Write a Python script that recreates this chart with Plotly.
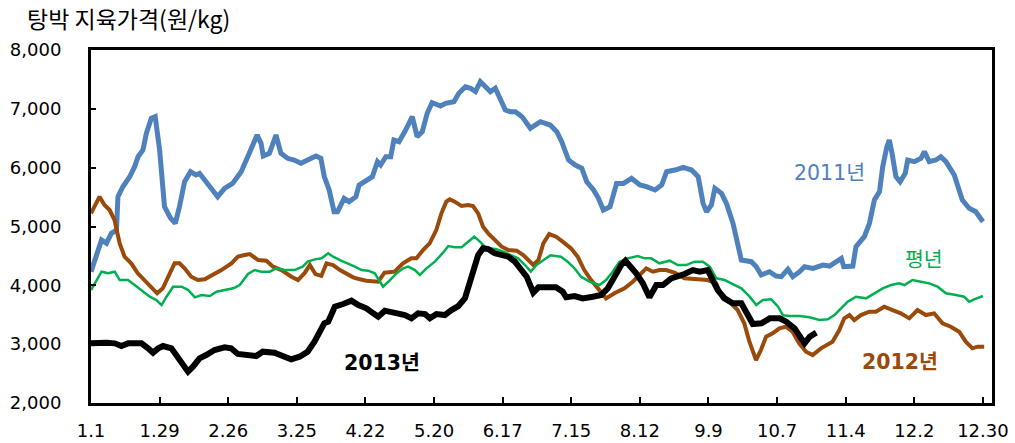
import plotly.graph_objects as go

tick_days = [0, 28, 56, 84, 112, 140, 168, 196, 224, 252, 280, 308, 336, 364]
tick_labels = ["1.1", "1.29", "2.26", "3.25", "4.22", "5.20", "6.17", "7.15", "8.12", "9.9", "10.7", "11.4", "12.2", "12.30"]

d2011 = [0,4.3,6.3,8.3,10.4,11,13,15.8,17.8,19.2,21.2,22.6,24.6,26.2,28,30,32.5,34.4,36.1,38.2,40.6,42.9,44.3,47,49.7,51.7,54.5,57.8,61.3,63.3,65.3,67.8,69.4,70.3,72.8,74.1,75.5,77.5,80.2,82.9,85.7,88.4,91.8,93.8,95.2,97.2,99.2,100.6,103.3,105.3,108.1,109.4,112.8,114.8,116.9,118.2,120.3,122.3,123.6,125.7,128.4,131.1,133.1,135.2,137.2,139.2,142.7,144.7,148.1,150.1,152.8,154.9,156.9,158.9,161,163,165,167.1,169.1,171.1,173.2,175.9,179.3,183.4,187.4,190.1,192.1,194.9,197.6,200.3,202.3,205.1,207.1,209.1,211.8,214.5,217.3,220.6,224,226.7,230.2,232.9,234.9,238.3,241.7,245.1,247.8,249.8,251.2,253.2,254.6,257.3,259.3,262,263.4,265.4,269.5,271.5,273.5,276.9,279.6,281.7,284.4,286.4,289.2,291.2,294.6,298.7,301.4,304.8,306.2,307.2,310.9,312.2,315.6,317.7,319.7,321.8,323.1,324.8,325.8,326.9,328.5,330.2,332.3,333.3,336,338.7,340.1,342.1,344.8,346.8,348.9,352.3,355.6,358.4,361.1,364]
v2011 = [4230,4770,4714,4884,4940,5507,5676,5846,6017,6187,6300,6584,6839,6867,6300,5337,5139,5054,5337,5761,5931,5875,5904,5761,5620,5507,5649,5733,5931,6130,6357,6555,6414,6198,6244,6385,6555,6244,6159,6130,6074,6130,6198,6159,5850,5620,5251,5251,5479,5422,5507,5705,5790,5846,6102,6045,6187,6187,6470,6442,6640,6867,6527,6612,6924,7104,7048,7094,7122,7264,7376,7349,7292,7462,7376,7292,7349,7150,6980,6951,6951,6867,6669,6782,6725,6612,6442,6130,6045,5989,5761,5620,5479,5280,5337,5733,5733,5819,5705,5677,5620,5705,5931,5960,6006,5960,5846,5394,5251,5365,5649,5564,5394,5054,4770,4430,4402,4317,4176,4232,4159,4147,4272,4147,4232,4317,4289,4345,4328,4430,4459,4317,4328,4657,4827,5054,5450,5592,6017,6357,6470,6244,5846,5761,5904,6130,6102,6159,6272,6102,6130,6187,6102,5875,5450,5309,5251,5082]

d2012 = [0,3.5,5.5,7.6,9.6,11.7,13.7,16.4,19.1,21.8,24.6,27,29.3,32,34.1,36.1,38.2,40.9,43.6,46.4,49.8,53.2,57.3,60,62.7,64.8,68.2,71.6,74.3,77.7,81.8,84.5,87.3,89.3,91.6,94,96.1,98.8,101.6,104.3,107,109.7,112.4,117.2,119.8,123.9,127.3,130.7,132.8,135.5,138.2,140.9,143,145,146.4,148.4,151.2,153.9,155.9,158,160,162.1,164.8,167.6,170.3,173.7,176.4,178.5,180.5,182.6,184.6,187,189.8,192.5,195.9,198.6,201.3,204.1,206.8,210.2,213.6,217.7,221.1,224.5,226.6,229.3,232,234.7,238.1,242.2,247,251.7,255.1,257.8,261.2,263.9,266.6,268.7,271.4,273.4,275.5,278.2,280.9,283.6,286.3,289,291.8,294.5,297.9,302.6,305.4,307.4,309.5,311.5,314.2,317.6,320.3,323.7,327.1,330.5,333.9,337.3,340.7,344.1,347.5,350.9,354.3,357,359.7,361.8,364.5]
v2012 = [5224,5507,5365,5280,5110,4714,4487,4374,4204,4090,3949,3864,3949,4204,4374,4374,4289,4147,4090,4102,4176,4260,4374,4487,4515,4532,4430,4418,4317,4260,4147,4090,4215,4345,4190,4160,4374,4345,4260,4204,4136,4102,4079,4062,4215,4232,4374,4459,4459,4600,4714,4940,5224,5422,5462,5422,5348,5365,5348,5224,4997,4884,4770,4657,4600,4589,4515,4430,4345,4430,4714,4872,4827,4742,4629,4487,4260,4090,3949,3779,3864,3949,4062,4204,4289,4232,4260,4260,4215,4119,4102,4090,4034,3779,3694,3580,3354,3042,2730,2900,3127,3184,3269,3297,3212,3014,2872,2815,2929,3042,3240,3439,3495,3410,3495,3552,3552,3637,3580,3524,3439,3580,3495,3524,3354,3297,3212,3042,2929,2957,2957]

d_avg = [0,2.2,4.3,7,9.7,11.7,15.1,17.8,20.6,24,26.7,28.8,30.8,33.5,37,39.7,42.4,45.1,48.5,51.2,54.6,58,60.7,64.1,66.8,69.5,72.9,75.6,79,83,86.4,88.4,91.4,94.1,96.8,98.8,101.6,104.9,107.7,110.4,113.1,115.8,117.9,119.2,122,124.7,127.4,129.4,132.2,134.2,136.9,140.3,143.7,145.8,148.5,151.2,153.9,156.4,158.7,160.7,162.7,165.5,168.2,171.6,174.3,177.1,179.5,181.8,184.5,187.5,191.8,194.5,197.3,200,203.4,207.5,210.2,212.9,215.7,219.1,223.1,225.9,228.6,232,236.1,239.5,242.9,246.3,249.7,252.5,255.2,258.6,261.3,265.4,268.8,271.5,274.2,277.6,280.4,282.4,285.1,289.2,293.2,297.3,300.7,303.4,306.1,308.8,312.2,316.3,319.7,323.1,326.5,329.9,331.9,335.3,338.7,342.1,345.5,348.9,353,356.3,358.4,360.4,364]
v_avg = [3920,4090,4232,4204,4232,4090,4090,4005,3920,3807,3750,3665,3807,3977,3977,3920,3796,3835,3818,3892,3920,3949,4005,4193,4260,4232,4232,4289,4260,4260,4317,4402,4441,4459,4544,4487,4430,4374,4317,4260,4249,4204,4062,3977,4090,4204,4289,4317,4260,4176,4289,4402,4555,4668,4646,4646,4742,4827,4742,4657,4629,4612,4572,4515,4459,4345,4232,4345,4430,4510,4487,4402,4289,4147,4062,4005,4090,4232,4402,4459,4498,4459,4459,4374,4419,4345,4345,4402,4402,4317,4119,4090,4034,3949,3807,3665,3750,3762,3637,3490,3478,3478,3456,3410,3422,3495,3609,3722,3807,3779,3864,3949,4005,4034,4005,4090,4062,4034,3977,3864,3835,3807,3722,3762,3818]

d2013 = [0,2.9,6.3,9.7,12.4,15.1,20.6,23.3,25.3,27.4,29.4,32.8,35.5,37.6,39.6,41.6,44.3,47,50.4,54.5,57.2,59.9,64,67.4,70.1,74.9,79,81.7,85.1,88.4,91.2,93.2,95.2,96.8,99.5,102.9,106.3,109.1,112.4,115.2,117.2,119.9,124,128.1,130.8,133.5,136.3,138.3,141,144.4,147.1,149.9,152.6,154.6,156,158,160,162.1,164.8,168.2,170.3,173,175.8,177.8,180.5,182.6,186.6,189.8,192.5,193.9,197.3,200.7,204.8,208.2,210.9,213.6,216.4,218.1,220.2,222.5,225.2,227.9,230.7,233.4,236.8,239.5,242.2,245.6,248.4,251.7,253.8,255.8,258.6,261.9,265.4,268.1,270.1,273.6,277,281,283.7,287.1,289.2,291.2,293.3,296]
v2013 = [3014,3025,3025,3014,2969,3014,3014,2929,2855,2929,2969,2929,2759,2646,2532,2617,2759,2815,2900,2946,2929,2833,2815,2798,2872,2855,2787,2742,2787,2872,3042,3212,3354,3382,3637,3682,3739,3665,3609,3524,3467,3569,3535,3495,3439,3524,3512,3439,3512,3495,3580,3648,3779,4034,4260,4515,4629,4617,4544,4515,4487,4402,4260,4147,3875,3966,3966,3966,3892,3796,3818,3779,3807,3835,3949,4147,4345,4419,4317,4204,4034,3796,4005,4005,4119,4147,4193,4260,4232,4260,4090,3920,3779,3694,3694,3495,3342,3354,3439,3439,3382,3269,3155,3014,3127,3195]

FONT = "DejaVu Sans, Noto Sans CJK KR, sans-serif"

fig = go.Figure()
fig.add_trace(go.Scatter(x=d2011, y=v2011, mode="lines", name="2011년",
                         line=dict(color="#4F81BD", width=5)))
fig.add_trace(go.Scatter(x=d2012, y=v2012, mode="lines", name="2012년",
                         line=dict(color="#9A4A0A", width=4)))
fig.add_trace(go.Scatter(x=d_avg, y=v_avg, mode="lines", name="평년",
                         line=dict(color="#00B050", width=2.5)))
fig.add_trace(go.Scatter(x=d2013, y=v2013, mode="lines", name="2013년",
                         line=dict(color="#000000", width=6)))

ann = [
    dict(x=301.5, y=5910, text="2011년", color="#4F81BD"),
    dict(x=340, y=4430, text="평년", color="#00B050"),
    dict(x=330, y=2700, text="<b>2012년</b>", color="#9A4A0A"),
    dict(x=118.6, y=2680, text="<b>2013년</b>", color="#000000"),
]
for a in ann:
    fig.add_annotation(x=a["x"], y=a["y"], text=a["text"], showarrow=False,
                       xanchor="center", yanchor="middle",
                       font=dict(family=FONT, size=20.5, color=a["color"]))

fig.update_layout(
    width=1015, height=443,
    margin=dict(l=91, r=23, t=50, b=40, autoexpand=False),
    paper_bgcolor="white", plot_bgcolor="white",
    showlegend=False,
    font=dict(family=FONT, size=18, color="#000000"),
    title=dict(text="탕박 지육가격(원/kg)", x=27/1015, xref="container", xanchor="left",
               y=1-20/443, yref="container", yanchor="middle",
               font=dict(family="Noto Sans CJK KR, DejaVu Sans", size=23, color="#000000")),
)
fig.update_xaxes(range=[0, 367.7], tickvals=tick_days, ticktext=tick_labels,
                 showgrid=False, zeroline=False, showline=True, linewidth=3,
                 linecolor="black", mirror=True, ticks="inside", ticklen=6,
                 tickwidth=2, tickcolor="black", ticklabelstandoff=9, automargin=False,
                 tickfont=dict(family=FONT, size=18, color="black"))
fig.update_yaxes(range=[2000, 8000], dtick=1000, tickformat=",",
                 showgrid=False, zeroline=False, showline=True, linewidth=3,
                 linecolor="black", mirror=True, ticks="inside", ticklen=5,
                 tickwidth=2, tickcolor="black", ticklabelstandoff=23, automargin=False,
                 tickfont=dict(family=FONT, size=18, color="black"))

fig.write_html("out.html", config={"displayModeBar": False},
               post_script="document.body.style.margin='0';document.body.style.overflow='hidden';")
